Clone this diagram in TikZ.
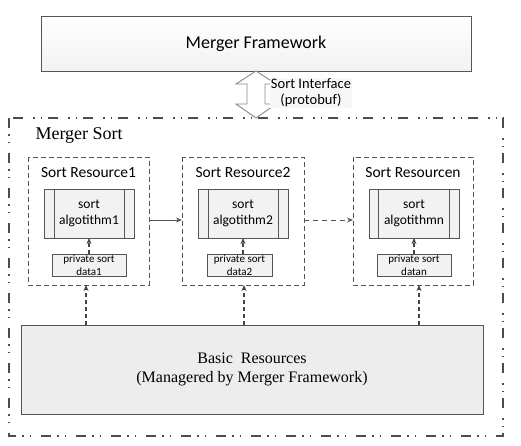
\documentclass[tikz,border=0pt]{standalone}
\usepackage{fontspec}
\setmainfont{Liberation Serif}
\newfontfamily\calfnt{Carlito}
\usetikzlibrary{arrows.meta}
\definecolor{ln}{HTML}{555555}
\definecolor{boxfill}{HTML}{F2F2F2}
\definecolor{basefill}{HTML}{EDEDED}
\tikzset{
  x=1pt,y=-1pt,
  frame/.style={draw=ln,line width=0.9pt,fill=boxfill},
  resbox/.style={draw=ln,line width=0.9pt,dash pattern=on 5pt off 3pt},
  algbox/.style={draw=ln,line width=0.9pt,fill=boxfill},
  databox/.style={draw=ln,line width=0.9pt,fill=boxfill},
  darr/.style={draw=ln!80!black,line width=1.1pt,dash pattern=on 4pt off 3pt,-{Stealth[length=6pt,width=5pt]}},
  sarr/.style={draw=ln,line width=0.9pt,-{Stealth[length=6pt,width=5pt]}},
}
\begin{document}
\begin{tikzpicture}
\useasboundingbox (0,0) rectangle (521,445);
% Merger Framework
\draw[frame,top color=white,bottom color=boxfill] (41,16) rectangle (471,71);
\node[font=\calfnt\fontsize{18}{21}\selectfont] (mf) at (256,43.5) {Merger Framework};
% double arrow
\draw[draw=ln!70,line width=0.9pt,fill=white]
  (256,71) -- (276,84) -- (265,84) -- (265,104) -- (276,104) -- (256,118)
  -- (236,104) -- (247,104) -- (247,84) -- (236,84) -- cycle;
\node[font=\calfnt\fontsize{14.5}{16}\selectfont,align=center,fill=boxfill!60,inner sep=1pt] (si) at (311,93) {Sort Interface\\(protobuf)};
% outer box
\draw[ln!90!black,line width=1.4pt,dash pattern=on 10pt off 6pt on 1.5pt off 6pt on 1.5pt off 10pt] (9,118) rectangle (503,436);
\node[font=\fontsize{18}{21}\selectfont,anchor=west] (ms) at (32,135) {Merger Sort};
% resource boxes
\foreach \i/\xl/\xr/\ax/\bx/\al/\ar/\il/\ir/\dl/\dr/\lab/\alg/\dat in {
  1/28/149/89/86/44/134/54/124/52/126/Sort Resource1/algotithm1/data1,
  2/182/304/243/244/198/288/208/278/207/272/Sort Resource2/algotithm2/data2,
  3/353/473/414/419/369/459/378/449/377/451/Sort Resourcen/algotithmn/datan}{
  \draw[resbox] (\xl,157) rectangle (\xr,285);
  \node[font=\calfnt\fontsize{15.5}{18}\selectfont] (t\i) at ({(\xl+\xr)/2},173) {\lab};
  \draw[algbox] (\al,189) rectangle (\ar,238);
  \draw[ln,line width=0.9pt] (\il,189) -- (\il,238) (\ir,189) -- (\ir,238);
  \node[font=\calfnt\fontsize{13.5}{16}\selectfont,align=center] (a\i) at ({(\al+\ar)/2},213) {sort\\\alg};
  \draw[databox] (\dl,254) rectangle (\dr,276);
  \node[font=\calfnt\fontsize{11}{13.5}\selectfont,align=center] (d\i) at ({(\dl+\dr)/2},265) {private sort\\\dat};
  \coordinate (dt\i) at (\ax,254);
  \coordinate (at\i) at (\ax,238);
  \coordinate (rb\i) at (\bx,285);
  \coordinate (bb\i) at (\bx,325);
  \coordinate (rl\i) at (\xl,220);
  \coordinate (rr\i) at (\xr,220);
  \draw[darr] (dt\i) -- (at\i);
}
% basic resources
\draw[draw=ln,line width=0.9pt,fill=basefill] (21,325) rectangle (483,414);
\node[font=\fontsize{16}{19}\selectfont,align=center] (br) at (252,369) {Basic\ \ Resources\\(Managered by Merger Framework)};
\foreach \i in {1,2,3}{\draw[darr] (bb\i) -- (rb\i);}
\draw[sarr] (rr1) -- (rl2);
\draw[sarr,dash pattern=on 5pt off 4pt] (rr2) -- (rl3);
\end{tikzpicture}
\end{document}
